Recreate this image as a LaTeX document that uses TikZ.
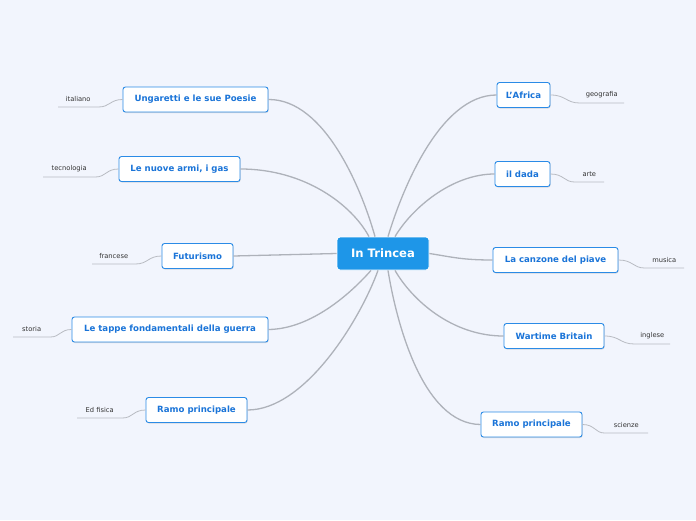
\documentclass[tikz,border=0pt]{standalone}
\usepackage{fontspec}
\setmainfont{DejaVu Sans}
\usetikzlibrary{shadows,calc}
\definecolor{bg}{HTML}{F2F5FD}
\definecolor{nodeblue}{HTML}{2B8BE6}
\definecolor{textblue}{HTML}{1A74D8}
\definecolor{cfill}{HTML}{1E96E8}
\definecolor{conn}{HTML}{AEB2BA}
\definecolor{subline}{HTML}{B8BBC2}
\tikzset{
  mainbox/.style={draw=nodeblue, line width=0.9pt, fill=white, rounded corners=2.5pt,
    text=textblue, font=\bfseries\fontsize{8.6}{10}\selectfont, minimum height=25pt,
    inner sep=0pt, drop shadow={shadow xshift=0.6pt, shadow yshift=-1pt, opacity=0.25}},
  centerbox/.style={draw=white, line width=0.8pt, fill=cfill, rounded corners=3pt,
    text=white, font=\bfseries\fontsize{11.6}{14}\selectfont, minimum width=92pt,
    minimum height=33pt, inner sep=0pt},
  sublab/.style={font=\fontsize{6.7}{8}\selectfont, text=black!80, inner sep=0pt,
    minimum height=16pt},
  branch/.style={draw=conn, line width=1.3pt},
  subbranch/.style={draw=subline, line width=0.8pt}
}
\begin{document}
\begin{tikzpicture}[x=1pt,y=-1pt]
\fill[bg] (0,0) rectangle (696,520);
\useasboundingbox (0,0) rectangle (696,520);

% central
\node[centerbox] (c) at (383,253.5) {In Trincea};

% left main nodes
\node[mainbox, minimum width=145pt] (ung) at (195.5,99.5) {Ungaretti e le sue Poesie};
\node[mainbox, minimum width=121pt] (arm) at (179.5,169) {Le nuove armi, i gas};
\node[mainbox, minimum width=71pt] (fut) at (197.5,256) {Futurismo};
\node[mainbox, minimum width=196pt] (tap) at (170,329.5) {Le tappe fondamentali della guerra};
\node[mainbox, minimum width=101pt] (rl) at (196.5,410) {Ramo principale};

% right main nodes
\node[mainbox, minimum width=53pt] (afr) at (523.5,95) {L'Africa};
\node[mainbox, minimum width=55pt] (dada) at (522.5,174) {il dada};
\node[mainbox, minimum width=125pt] (canz) at (555.5,260) {La canzone del piave};
\node[mainbox, minimum width=100pt] (war) at (554,336) {Wartime Britain};
\node[mainbox, minimum width=101pt] (rr) at (531.5,424.5) {Ramo principale};

% branches to center
\draw[branch] (ung.east) .. controls (325,99) and (362,190) .. ([xshift=-8pt]c.north);
\draw[branch] (arm.east) .. controls (305,169) and (352,205) .. ([xshift=-14pt]c.north);
\draw[branch] (fut.east) -- (c.west);
\draw[branch] (tap.east) .. controls (312,329) and (352,292) .. ([xshift=-12pt]c.south);
\draw[branch] (rl.east) .. controls (305,410) and (360,320) .. ([xshift=-5pt]c.south);
\draw[branch] (afr.west) .. controls (440,95) and (402,190) .. ([xshift=5pt]c.north);
\draw[branch] (dada.west) .. controls (452,174) and (412,208) .. ([xshift=12pt]c.north);
\draw[branch] (canz.west) .. controls (462,260) and (452,257) .. (c.east);
\draw[branch] (war.west) .. controls (452,336) and (412,300) .. ([xshift=12pt]c.south);
\draw[branch] (rr.west) .. controls (422,424) and (396,320) .. ([xshift=5pt]c.south);

% left sub labels
\node[sublab, minimum width=40pt, anchor=south west] (sit) at (58,107) {italiano};
\node[sublab, minimum width=52pt, anchor=south west] (stec) at (43,177) {tecnologia};
\node[sublab, minimum width=43pt, anchor=south west] (sfr) at (92,264) {francese};
\node[sublab, minimum width=37pt, anchor=south west] (sst) at (13,337) {storia};
\node[sublab, minimum width=45pt, anchor=south west] (sed) at (77,418) {Ed fisica};

\draw[subbranch] (ung.west) .. controls (110,99.5) and (110,107) .. (sit.south east) -- (sit.south west);
\draw[subbranch] (arm.west) .. controls (106,169) and (106,177) .. (stec.south east) -- (stec.south west);
\draw[subbranch] (fut.west) .. controls (148,256) and (148,264) .. (sfr.south east) -- (sfr.south west);
\draw[subbranch] (tap.west) .. controls (60,329.5) and (60,337) .. (sst.south east) -- (sst.south west);
\draw[subbranch] (rl.west) .. controls (133,410) and (133,418) .. (sed.south east) -- (sed.south west);

% right sub labels
\node[sublab, minimum width=44pt, anchor=south east] (sgeo) at (624,103) {geografia};
\node[sublab, minimum width=29pt, anchor=south east] (sarte) at (604,182) {arte};
\node[sublab, minimum width=39pt, anchor=south east] (smus) at (684,268) {musica};
\node[sublab, minimum width=35pt, anchor=south east] (sing) at (670,344) {inglese};
\node[sublab, minimum width=43pt, anchor=south east] (ssci) at (648,433) {scienze};

\draw[subbranch] (afr.east) .. controls (566,95) and (566,103) .. (sgeo.south west) -- (sgeo.south east);
\draw[subbranch] (dada.east) .. controls (564,174) and (564,182) .. (sarte.south west) -- (sarte.south east);
\draw[subbranch] (canz.east) .. controls (633,260) and (633,268) .. (smus.south west) -- (smus.south east);
\draw[subbranch] (war.east) .. controls (620,336) and (620,344) .. (sing.south west) -- (sing.south east);
\draw[subbranch] (rr.east) .. controls (595,424.5) and (595,433) .. (ssci.south west) -- (ssci.south east);
\end{tikzpicture}
\end{document}
